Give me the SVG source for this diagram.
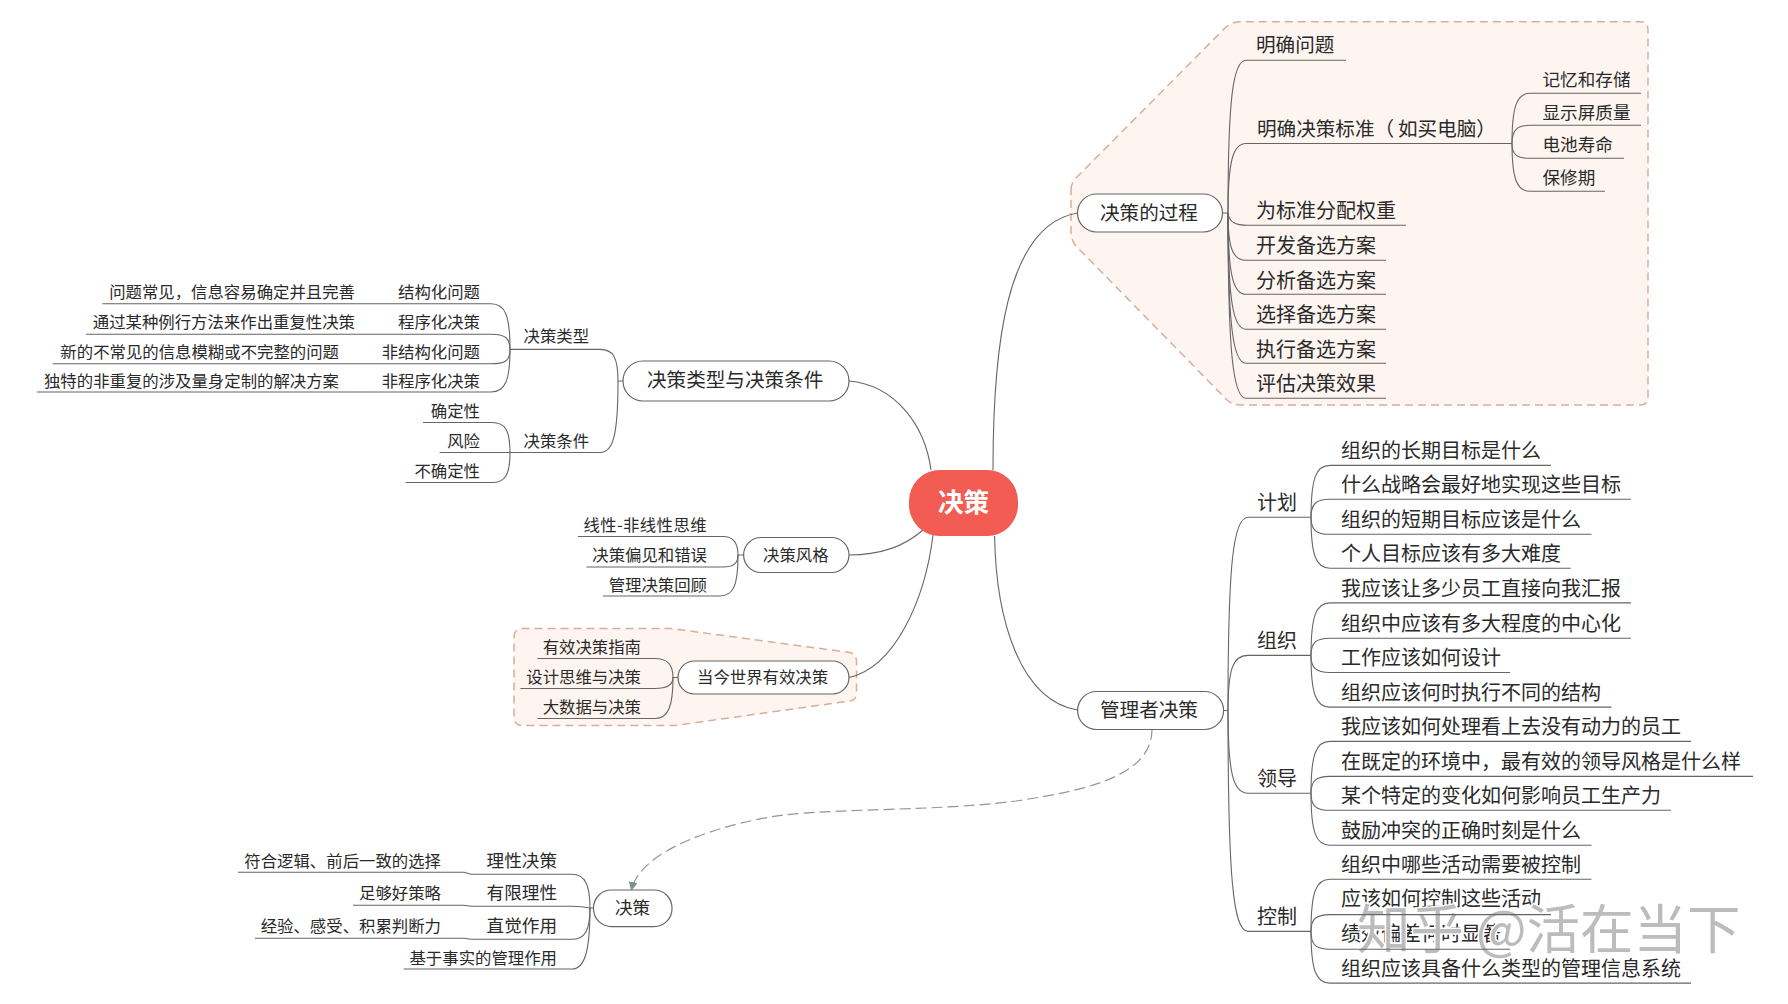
<svg xmlns="http://www.w3.org/2000/svg" width="1788" height="1004" viewBox="0 0 1788 1004">
<style>
text{font-family:"Noto Sans CJK SC","Liberation Sans",sans-serif;fill:#2a2a2a;text-spacing-trim:space-all;font-kerning:none}
.a{font-size:19.6px}.b{font-size:17.6px}.c{font-size:16.4px}.d{font-size:20px}
.topic{fill:#fff;stroke:#666;stroke-width:1.2}
.cloud{fill:#fef5f1;stroke:#d9ae98;stroke-width:1.5;stroke-dasharray:8 5}
.conn path{fill:none;stroke:#666;stroke-width:1.1}
.conn path.rel{stroke:#8a9a98;stroke-width:1.2;stroke-dasharray:11 5}
.e{text-anchor:end}
</style>
<defs><marker id="arr" markerUnits="userSpaceOnUse" markerWidth="10" markerHeight="10" refX="8" refY="4.5" orient="auto"><path d="M0 0L9 4.5L0 9Z" fill="#7b8f8c"/></marker></defs>
<rect width="1788" height="1004" fill="#fff"/>
<path id="cloud-process" class="cloud" d="M1071 190Q1071 183 1076 178L1225 28Q1232 21.7 1240 21.7H1640Q1648 21.7 1648 30V397Q1648 405 1640 405H1240Q1232 405 1226 399L1076 246Q1071 240 1071 233Z"/>
<path id="cloud-today" class="cloud" d="M514 637.500Q514 628.500 523 628.500H671L850 652.500Q856.500 654.500 856.500 661.500V693Q856.500 700 850 701L675 725.500H523Q514 725.500 514 716.500Z"/>
<g id="connectors" class="conn">
<path d="M931 470C925 425 895 385 849 381"/>
<path d="M923 530C905 546 880 555 849 555"/>
<path d="M933 535C925 600 895 667 849 677.500"/>
<path d="M993 470C993 350 1005 225 1077.500 213"/>
<path d="M994.600 536C996 620 1020 700 1077.600 710"/>
<path class="rel" marker-end="url(#arr)" d="M1152 729C1152 775 1090 790 1016 801C940 811 850 808 783 815C720 824 640 850 631.500 890"/>
<path d="M1222 213H1228C1228 99 1233 60.300 1246 60.300H1346"/>
<path d="M1228 213C1228 161 1233 143.500 1246 143.500H1512"/>
<path d="M1228 213C1229 222 1235 225.300 1248 225.300H1406"/>
<path d="M1228 213C1228 248.500 1233 260.300 1246 260.300H1386"/>
<path d="M1228 213C1228 274 1233 294.300 1246 294.300H1386"/>
<path d="M1228 213C1228 300 1233 329.300 1246 329.300H1386"/>
<path d="M1228 213C1228 326 1233 363.300 1246 363.300H1386"/>
<path d="M1228 213C1228 352 1233 398.300 1246 398.300H1386"/>
<path d="M1512 143.500C1512 106 1517 93.300 1530 93.300H1641"/>
<path d="M1512 143.500C1512 130 1517 125.300 1530 125.300H1641"/>
<path d="M1512 143.500C1512 154.600 1517 158.300 1530 158.300H1624"/>
<path d="M1512 143.500C1512 179 1517 191.300 1530 191.300H1605"/>
<path d="M1223 710.500H1228C1228 565.500 1233 517.200 1248 517.200H1311"/>
<path d="M1228 710.500C1228 669 1233 655.400 1248 655.400H1311"/>
<path d="M1228 710.500C1228 772.500 1233 793.200 1248 793.200H1311"/>
<path d="M1228 710.500C1228 876 1233 931.400 1248 931.400H1311"/>
<path d="M1311 517.200C1311 478 1316 465.400 1330 465.400H1551"/>
<path d="M1311 517.200C1311 503.800 1316 499.300 1330 499.300H1631"/>
<path d="M1311 517.200C1311 530 1316 534.300 1330 534.300H1591.500"/>
<path d="M1311 517.200C1311 555.500 1316 568.200 1330 568.200H1570.700"/>
<path d="M1311 655.400C1311 616 1316 602.900 1330 602.900H1631"/>
<path d="M1311 655.400C1311 642.500 1316 638.200 1330 638.200H1631"/>
<path d="M1311 655.400C1311 668 1316 672.500 1330 672.500H1510"/>
<path d="M1311 655.400C1311 694 1316 707.100 1330 707.100H1611.500"/>
<path d="M1311 793.200C1311 754.300 1316 741.400 1330 741.400H1691"/>
<path d="M1311 793.200C1311 780.600 1316 776.400 1330 776.400H1753"/>
<path d="M1311 793.200C1311 806 1316 810.300 1330 810.300H1671"/>
<path d="M1311 793.200C1311 832.300 1316 845.300 1330 845.300H1591.500"/>
<path d="M1311 931.400C1311 892 1316 879.200 1330 879.200H1591.500"/>
<path d="M1311 931.400C1311 970 1316 983.100 1330 983.100H1691"/>
<path d="M623 381H618C618 357 613 349.400 600 349.400H510"/>
<path d="M618 381C618 436 613 452.500 600 452.500H510"/>
<path d="M510 349.400C510 315 505 303.800 491 303.800H102.400"/>
<path d="M510 349.400C510 338 505 334.200 491 334.200H86"/>
<path d="M510 349.400C510 361 505 363.800 491 363.800H52.700"/>
<path d="M510 349.400C510 381 505 392 491 392H37"/>
<path d="M510 452.500C510 430 505 422.500 492 422.500H423"/>
<path d="M510 452.500H439.600"/>
<path d="M510 452.500C510 475 505 482.500 492 482.500H405.700"/>
<path d="M743.600 555H738C738 543 733 536.500 723 536.500H578"/>
<path d="M738 555C738 564 733 567 723 567H586.400"/>
<path d="M738 555C738 586 733 596 720 596H603"/>
<path d="M678 677.500H673C673 665 668 658.500 655 658.500H537.500"/>
<path d="M673 677.500C673 684 668 688.500 655 688.500H520.400"/>
<path d="M673 677.500C673 707 668 718.500 655 718.500H537.500"/>
<path d="M593.500 908H590C590 885 585 874.300 572 874.300H471L464 872.300H238"/>
<path d="M590 908C585 907 580 906.300 572 906.300H471L464 905.300H353"/>
<path d="M590 908C590 930 585 939.300 572 939.300H471L464 938.300H255"/>
<path d="M590 908C590 950 585 969 572 969H403.700"/>
</g>
<g id="root"><rect x="909" y="470" width="109" height="66" rx="31" fill="#f25c52"/><text x="963.500" y="512" text-anchor="middle" font-size="25.600" font-weight="700" style="fill:#fff">决策</text></g>
<g id="n-process"><rect class="topic" x="1077.500" y="194" width="145" height="38" rx="19"/><text class="a" x="1100" y="220">决策的过程</text></g>
<g id="n-p1"><text class="a" x="1256" y="52">明确问题</text></g>
<g id="n-p2"><text class="a" x="1257" y="136">明确决策标准（<tspan x="1398">如买电脑）</tspan></text></g>
<g id="n-p21"><text class="b" x="1542.500" y="86">记忆和存储</text></g>
<g id="n-p22"><text class="b" x="1542.500" y="119">显示屏质量</text></g>
<g id="n-p23"><text class="b" x="1542.500" y="151">电池寿命</text></g>
<g id="n-p24"><text class="b" x="1542.500" y="184">保修期</text></g>
<g id="n-p3"><text class="d" x="1256" y="218">为标准分配权重</text></g>
<g id="n-p4"><text class="d" x="1256" y="253">开发备选方案</text></g>
<g id="n-p5"><text class="d" x="1256" y="288">分析备选方案</text></g>
<g id="n-p6"><text class="d" x="1256" y="322">选择备选方案</text></g>
<g id="n-p7"><text class="d" x="1256" y="357">执行备选方案</text></g>
<g id="n-p8"><text class="d" x="1256" y="391">评估决策效果</text></g>
<g id="n-manager"><rect class="topic" x="1077.600" y="691.500" width="146" height="38" rx="19"/><text class="a" x="1100" y="717">管理者决策</text></g>
<g id="n-m1"><text class="d" x="1257" y="510">计划</text></g>
<g id="n-m2"><text class="d" x="1257" y="648">组织</text></g>
<g id="n-m3"><text class="d" x="1257" y="786">领导</text></g>
<g id="n-m4"><text class="d" x="1257" y="924">控制</text></g>
<g id="n-m11"><text class="d" x="1341" y="458">组织的长期目标是什么</text></g>
<g id="n-m12"><text class="d" x="1341" y="492">什么战略会最好地实现这些目标</text></g>
<g id="n-m13"><text class="d" x="1341" y="527">组织的短期目标应该是什么</text></g>
<g id="n-m14"><text class="d" x="1341" y="561">个人目标应该有多大难度</text></g>
<g id="n-m21"><text class="d" x="1341" y="596">我应该让多少员工直接向我汇报</text></g>
<g id="n-m22"><text class="d" x="1341" y="630.500">组织中应该有多大程度的中心化</text></g>
<g id="n-m23"><text class="d" x="1341" y="665">工作应该如何设计</text></g>
<g id="n-m24"><text class="d" x="1341" y="699.500">组织应该何时执行不同的结构</text></g>
<g id="n-m31"><text class="d" x="1341" y="734">我应该如何处理看上去没有动力的员工</text></g>
<g id="n-m32"><text class="d" x="1341" y="769">在既定的环境中，最有效的领导风格是什么样</text></g>
<g id="n-m33"><text class="d" x="1341" y="803">某个特定的变化如何影响员工生产力</text></g>
<g id="n-m34"><text class="d" x="1341" y="838">鼓励冲突的正确时刻是什么</text></g>
<g id="n-m41"><text class="d" x="1341" y="872">组织中哪些活动需要被控制</text></g>
<g id="n-m42"><text class="d" x="1341" y="906">应该如何控制这些活动</text></g>
<g id="n-m43"><text class="d" x="1341" y="941">绩效偏差何时显著</text></g>
<g id="n-m44"><text class="d" x="1341" y="976">组织应该具备什么类型的管理信息系统</text></g>
<g id="n-type"><rect class="topic" x="623" y="361" width="226" height="40" rx="20"/><text class="a" x="647" y="387">决策类型与决策条件</text></g>
<g id="n-t1"><text class="c" x="523.500" y="342">决策类型</text></g>
<g id="n-t2"><text class="c" x="523.500" y="447">决策条件</text></g>
<g id="n-t11"><text class="c e" x="480" y="298">结构化问题</text><text class="c e" x="355" y="298">问题常见，信息容易确定并且完善</text></g>
<g id="n-t12"><text class="c e" x="480" y="328">程序化决策</text><text class="c e" x="355" y="328">通过某种例行方法来作出重复性决策</text></g>
<g id="n-t13"><text class="c e" x="480" y="358">非结构化问题</text><text class="c e" x="339" y="358">新的不常见的信息模糊或不完整的问题</text></g>
<g id="n-t14"><text class="c e" x="480" y="386.500">非程序化决策</text><text class="c e" x="339" y="386.500">独特的非重复的涉及量身定制的解决方案</text></g>
<g id="n-t21"><text class="c e" x="480" y="417">确定性</text></g>
<g id="n-t22"><text class="c e" x="480" y="447">风险</text></g>
<g id="n-t23"><text class="c e" x="480" y="477">不确定性</text></g>
<g id="n-style"><rect class="topic" x="743.600" y="537.500" width="105.400" height="35" rx="17.500"/><text class="c" x="763" y="561">决策风格</text></g>
<g id="n-s1"><text class="c e" x="707" y="531" letter-spacing=".4">线性-非线性思维</text></g>
<g id="n-s2"><text class="c e" x="707" y="561">决策偏见和错误</text></g>
<g id="n-s3"><text class="c e" x="707" y="591">管理决策回顾</text></g>
<g id="n-today"><rect class="topic" x="678" y="661" width="171" height="33" rx="16.500"/><text class="c" x="697" y="683">当今世界有效决策</text></g>
<g id="n-d1"><text class="c e" x="641" y="652.500">有效决策指南</text></g>
<g id="n-d2"><text class="c e" x="641" y="682.500">设计思维与决策</text></g>
<g id="n-d3"><text class="c e" x="641" y="712.500">大数据与决策</text></g>
<g id="n-dec"><rect class="topic" x="593.500" y="890" width="78.500" height="36.700" rx="18"/><text class="b" x="615" y="914">决策</text></g>
<g id="n-x1"><text class="b e" x="557" y="867">理性决策</text><text class="c e" x="441" y="867">符合逻辑、前后一致的选择</text></g>
<g id="n-x2"><text class="b e" x="557" y="898.500">有限理性</text><text class="c e" x="441" y="898.500">足够好策略</text></g>
<g id="n-x3"><text class="b e" x="557" y="931.500">直觉作用</text><text class="c e" x="441" y="931.500">经验、感受、积累判断力</text></g>
<g id="n-x4"><text class="c e" x="557" y="964">基于事实的管理作用</text></g>
<text id="watermark" x="1357" y="949" font-size="53.500" style="fill:#bcbcbc;stroke:#fff;stroke-width:3;paint-order:stroke">知乎 @活在当下</text>
<g id="connectors-over" class="conn">
<path d="M1311 931.400C1311 918.800 1316 914.600 1330 914.600H1551"/>
<path d="M1311 931.400C1311 944.800 1316 949.200 1330 949.200H1510"/>
</g>
</svg>
